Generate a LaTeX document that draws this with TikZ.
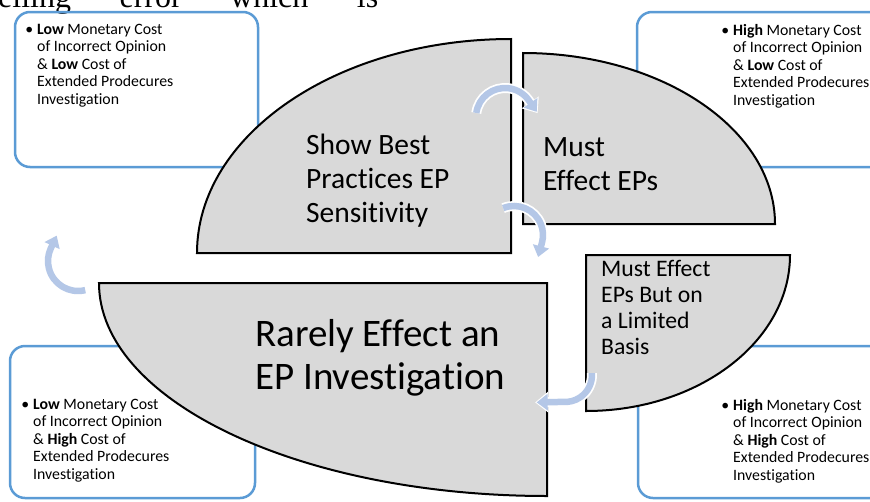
\documentclass[tikz,border=0pt]{standalone}
\usepackage{fontspec}
\setmainfont{Carlito}[Ligatures=NoCommon]
\newfontfamily\pagefont{Liberation Serif}
\usepackage{xcolor}
\usepackage{tikz}
\usetikzlibrary{arrows.meta}
\definecolor{boxblue}{RGB}{91,155,213}
\definecolor{petalgrey}{RGB}{217,217,217}
\definecolor{cycleblue}{RGB}{180,199,231}

\begin{document}
\begin{tikzpicture}[x=1pt, y=-1pt,
    costbox/.style={draw=boxblue, line width=2.5pt, rounded corners=15pt},
    costtext/.style={anchor=north west, inner sep=0pt, align=left, font=\fontsize{15.8}{17.5}\selectfont},
    petal/.style={draw=black, line width=2pt, fill=petalgrey},
    petaltext/.style={anchor=north west, inner sep=0pt, align=left},
    cyclerim/.style={draw=white, line width=10pt, -{Triangle[length=13pt, width=20pt]}, shorten >=-1.5pt},
    cyclearrow/.style={draw=cycleblue, line width=6.5pt, -{Triangle[length=11pt, width=16pt]}}]
        \useasboundingbox (0,0) rectangle (870,501);
        \clip (0,0) rectangle (870,501);

        % cut-off line of the page above
        \node[anchor=base west, inner sep=0pt, font=\pagefont\fontsize{32}{38}\selectfont] (pageline) at (-2,7)
            {\makebox[380pt][s]{eiling error which is}};

        % cost boxes
        \draw[costbox] (15,12) rectangle (258,167);
        \draw[costbox] (637,12) rectangle (890,167);
        \draw[costbox] (10,346) rectangle (255,498);
        \draw[costbox] (638,346) rectangle (890,498);

        \node[costtext] (lowlow) at (37,24)
            {\llap{\textbullet\hspace{4pt}}\textbf{Low} Monetary Cost\\of Incorrect Opinion\\\& \textbf{Low} Cost of\\Extended Prodecures\\Investigation};
        \node[costtext] (highlow) at (733,24)
            {\llap{\textbullet\hspace{4pt}}\textbf{High} Monetary Cost\\of Incorrect Opinion\\\& \textbf{Low} Cost of\\Extended Prodecures\\Investigation};
        \node[costtext] (lowhigh) at (33,399)
            {\llap{\textbullet\hspace{4pt}}\textbf{Low} Monetary Cost\\of Incorrect Opinion\\\& \textbf{High} Cost of\\Extended Prodecures\\Investigation};
        \node[costtext] (highhigh) at (733,399)
            {\llap{\textbullet\hspace{4pt}}\textbf{High} Monetary Cost\\of Incorrect Opinion\\\& \textbf{High} Cost of\\Extended Prodecures\\Investigation};

        % quarter pieces
        \draw[petal] (511,253) -- (197,253) arc[start angle=180, end angle=270, x radius=314, y radius=214] -- cycle;
        \draw[petal] (523,224) -- (523,53) arc[start angle=270, end angle=360, x radius=252, y radius=171] -- cycle;
        \draw[petal] (586,255) -- (790,255) arc[start angle=0, end angle=90, x radius=204, y radius=156] -- cycle;
        \draw[petal] (547,283) -- (547,496) arc[start angle=90, end angle=180, x radius=448, y radius=213] -- cycle;

        \node[petaltext, font=\fontsize{29.5}{34}\selectfont] (bestpractice) at (306,134)
            {Show Best\\Practices EP\\Sensitivity};
        \node[petaltext, font=\fontsize{29.5}{34}\selectfont] (musteffect) at (543,137.5)
            {Must\\Effect EPs};
        \node[petaltext, font=\fontsize{23.7}{26}\selectfont] (limited) at (601,260)
            {Must Effect\\EPs But on\\a Limited\\Basis};
        \node[petaltext, font=\fontsize{39}{43}\selectfont] (rarely) at (255,319)
            {Rarely Effect an\\EP Investigation};

        % cycle arrows: centre x/centre y/radius/start/end/tip run
        \foreach \cx/\cy/\r/\a/\b/\dx/\dy in {505/117/29/188/325/8/11.5, 514/235/29/248/375/-3.9/14.5,
                                              565/375/27/-4/95/-26/0.5, 78/261/30/76/205/5.9/-12.7} {
            \draw[cyclerim] ({\cx+\r*cos(\a)},{\cy+\r*sin(\a)}) arc[start angle=\a, end angle=\b, radius=\r] -- ++(\dx,\dy);
            \draw[cyclearrow] ({\cx+\r*cos(\a)},{\cy+\r*sin(\a)}) arc[start angle=\a, end angle=\b, radius=\r] -- ++(\dx,\dy);
        }
    \end{tikzpicture}
\end{document}
